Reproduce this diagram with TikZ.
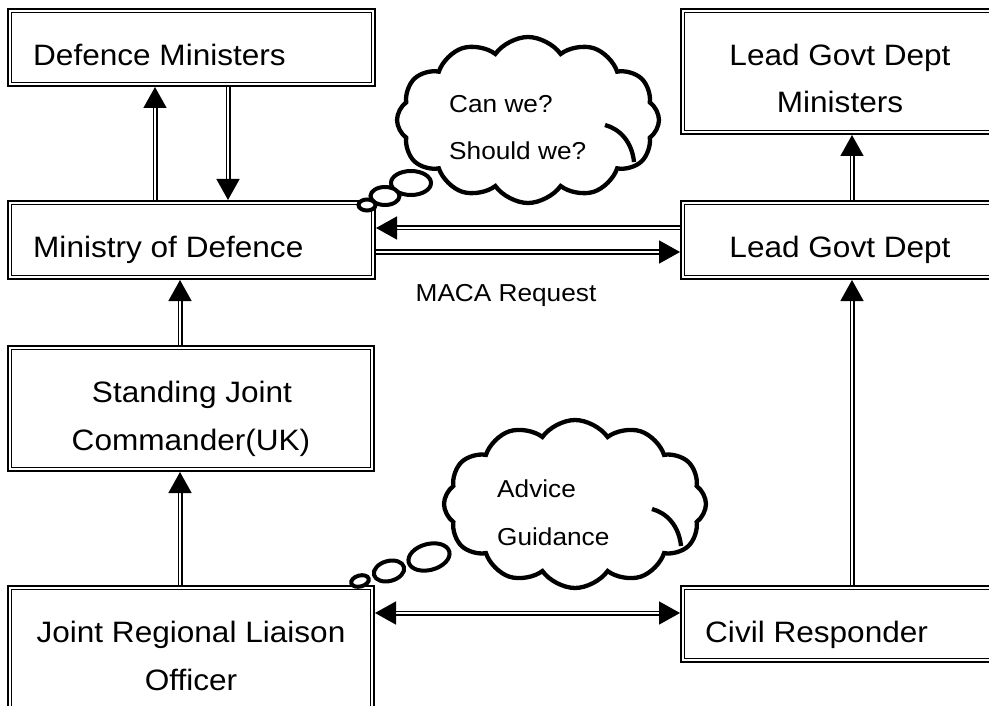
\documentclass[tikz,border=0pt]{standalone}
\usepackage{fontspec}
\setmainfont{Liberation Sans}[FakeStretch=1.07]
\usetikzlibrary{arrows.meta,shapes.symbols,shapes.geometric}
\tikzset{
  box/.style={draw, double, double distance=2.2pt, line width=1.6pt, outer sep=2.7pt, inner sep=0pt},
  big/.style={inner sep=0pt, font=\fontsize{29.5}{35}\selectfont},
  small/.style={inner sep=0pt, font=\fontsize{24.5}{30}\selectfont},
  arr/.style={double, double distance=2.2pt, line width=1.4pt, -{Triangle[length=21pt,width=23pt]}},
  arrboth/.style={double, double distance=2.2pt, line width=1.4pt, {Triangle[length=21pt,width=23pt]}-{Triangle[length=21pt,width=23pt]}},
  thought/.style={cloud, draw, fill=white, line width=4.3pt, cloud puffs=12, cloud puff arc=110, aspect=1.6, inner sep=0pt},
  bubble/.style={ellipse, draw, fill=white, line width=4pt, inner sep=0pt},
  puffline/.style={line width=4.3pt}
}
\begin{document}
\begin{tikzpicture}[x=1pt,y=-1pt]
\clip (0,0) rectangle (989,706);
\fill[white] (0,0) rectangle (989,706);
% boxes
\node[box, minimum width=363.6pt, minimum height=73.6pt] (dm) at (191.5,47.5) {};
\node[box, minimum width=363.6pt, minimum height=74.6pt] (mod) at (191.5,240) {};
\node[box, minimum width=317.3pt, minimum height=121.6pt] (lgdm) at (841.4,71.5) {};
\node[box, minimum width=317.3pt, minimum height=74.6pt] (lgd) at (841.4,240) {};
\node[box, minimum width=362.6pt, minimum height=121.6pt] (sjc) at (191,408.5) {};
\node[box, minimum width=362.6pt, minimum height=132pt] (jrlo) at (191,653.7) {};
\node[box, minimum width=317.3pt, minimum height=72.6pt] (cr) at (841.4,624) {};
% texts
\node[big, anchor=base west] (tdm) at (33,66) {Defence Ministers};
\node[big, anchor=base west] (tmod) at (33,258) {Ministry of Defence};
\node[big, anchor=base] (tlgdm1) at (840,66) {Lead Govt Dept};
\node[big, anchor=base] (tlgdm2) at (840,113) {Ministers};
\node[big, anchor=base] (tlgd) at (840,258) {Lead Govt Dept};
\node[big, anchor=base] (tsjc1) at (192,402) {Standing Joint};
\node[big, anchor=base] (tsjc2) at (191,450) {Commander(UK)};
\node[big, anchor=base] (tjr1) at (191,642) {Joint Regional Liaison};
\node[big, anchor=base] (tjr2) at (191,690) {Officer};
\node[big, anchor=base west] (tcr) at (705,642) {Civil Responder};
\node[small, anchor=base] (maca) at (506,301.5) {MACA Request};
% arrows
\draw[arr] (155,0 |- mod.north) -- (155,0 |- dm.south);
\draw[arr] (228,0 |- dm.south) -- (228,0 |- mod.north);
\draw[arr] (180,0 |- sjc.north) -- (180,0 |- mod.south);
\draw[arr] (180,0 |- jrlo.north) -- (180,0 |- sjc.south);
\draw[arr] (852,0 |- lgd.north) -- (852,0 |- lgdm.south);
\draw[arr] (852,0 |- cr.north) -- (852,0 |- lgd.south);
\draw[arr] (lgd.west |- 0,228) -- (mod.east |- 0,228);
\draw[arr] (mod.east |- 0,252) -- (lgd.west |- 0,252);
\draw[arrboth] (jrlo.east |- 0,613) -- (cr.west |- 0,613);
% cloud 1
\node[thought, minimum width=262pt, minimum height=166pt] (c1) at (528,120) {};
\draw[puffline] ([shift={(77,5)}]c1.center) .. controls ([shift={(92,9)}]c1.center) and ([shift={(104,22)}]c1.center) .. ([shift={(106,42)}]c1.center);
\node[bubble, minimum width=40pt, minimum height=24pt] (b1a) at (411,183) {};
\node[bubble, minimum width=29pt, minimum height=18pt] (b1b) at (385,196) {};
\node[bubble, minimum width=17pt, minimum height=11pt] (b1c) at (367,205) {};
\node[small, anchor=base west] (t1a) at (449,113) {Can we?};
\node[small, anchor=base west] (t1b) at (449,160) {Should we?};
% cloud 2
\node[thought, minimum width=262pt, minimum height=168pt] (c2) at (575,504) {};
\draw[puffline] ([shift={(77,5)}]c2.center) .. controls ([shift={(92,9)}]c2.center) and ([shift={(104,22)}]c2.center) .. ([shift={(106,42)}]c2.center);
\node[bubble, minimum width=42pt, minimum height=26pt, rotate=15] (b2a) at (429,557) {};
\node[bubble, minimum width=31pt, minimum height=20pt, rotate=15] (b2b) at (389,571) {};
\node[bubble, minimum width=18pt, minimum height=11pt, rotate=15] (b2c) at (360,581) {};
\node[small, anchor=base west] (t2a) at (497,497) {Advice};
\node[small, anchor=base west] (t2b) at (497,545) {Guidance};
\end{tikzpicture}
\end{document}
